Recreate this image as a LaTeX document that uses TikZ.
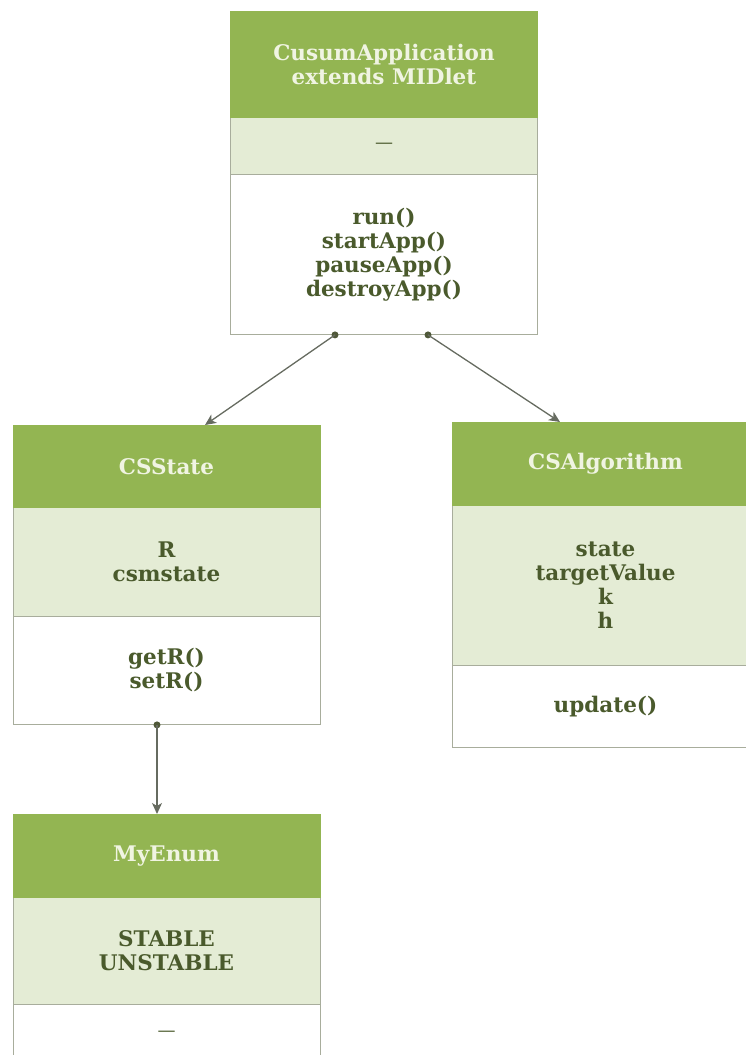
\documentclass[tikz,border=0pt]{standalone}
\usepackage{fontspec}
\setmainfont{DejaVu Serif}
\usetikzlibrary{arrows.meta}
\definecolor{hdrgreen}{HTML}{93B552}
\definecolor{hdrtext}{HTML}{F0F4E2}
\definecolor{attrgreen}{HTML}{E4ECD5}
\definecolor{bordergrey}{HTML}{A8AD9C}
\definecolor{bodytext}{HTML}{4A5A2C}
\definecolor{linegrey}{HTML}{666B60}
\definecolor{dotcol}{HTML}{4F5838}
\newcommand{\emptysec}{{\mdseries\fontsize{18}{24}\selectfont ---}}
\tikzset{
  part/.style={minimum width=307pt, inner sep=0pt, anchor=north, align=center,
    font=\bfseries\fontsize{21.5}{24}\selectfont},
  hdr/.style={part, fill=hdrgreen, draw=hdrgreen, text=hdrtext},
  attrs/.style={part, fill=attrgreen, draw=bordergrey, line width=0.9pt, text=bodytext},
  opers/.style={part, fill=white, draw=bordergrey, line width=0.9pt, text=bodytext},
  conn/.style={draw=linegrey, line width=1.3pt, -{Stealth[length=11pt,width=10pt,inset=3pt]}},
  dotnode/.style={circle, fill=dotcol, inner sep=0pt, minimum size=7pt}
}
\begin{document}
\begin{tikzpicture}[x=1pt,y=-1pt]
\useasboundingbox (0,0) rectangle (746,1055);
\clip (0,0) rectangle (746,1055);
% CusumApplication
\node[opers, minimum height=160pt] (appops) at (384,174) {run()\\startApp()\\pauseApp()\\destroyApp()};
\node[attrs, minimum height=57pt] (appattr) at (384,117) {\emptysec};
\node[hdr, minimum height=106pt] (apphdr) at (384,11) {CusumApplication\\extends MIDlet};
% CSState
\node[opers, minimum height=108pt] (cssops) at (166.5,616) {getR()\\setR()};
\node[attrs, minimum height=109pt] (cssattr) at (166.5,507) {R\\csmstate};
\node[hdr, minimum height=82pt] (csshdr) at (166.5,425) {CSState};
% CSAlgorithm
\node[opers, minimum height=82pt] (csaops) at (605.5,665) {update()};
\node[attrs, minimum height=160pt] (csaattr) at (605.5,505) {state\\targetValue\\k\\h};
\node[hdr, minimum height=83pt] (csahdr) at (605.5,422) {CSAlgorithm};
% MyEnum
\node[opers, minimum height=70pt] (enops) at (166.5,1004) {\raisebox{11pt}{\emptysec}};
\node[attrs, minimum height=107pt] (enattr) at (166.5,897) {STABLE\\UNSTABLE};
\node[hdr, minimum height=83pt] (enhdr) at (166.5,814) {MyEnum};
% connectors
\coordinate (t1) at ([xshift=38.5pt]csshdr.north);
\coordinate (t2) at ([xshift=-45.5pt]csahdr.north);
\coordinate (t3) at ([xshift=-9.5pt]enhdr.north);
\node[dotnode] (d1) at ([xshift=-49pt]appops.south) {};
\node[dotnode] (d2) at ([xshift=44pt]appops.south) {};
\node[dotnode] (d3) at ([xshift=-9.5pt]cssops.south) {};
\draw[conn] (d1.center) -- (t1);
\draw[conn] (d2.center) -- (t2);
\draw[conn] (d3.center) -- (t3);
\end{tikzpicture}
\end{document}
